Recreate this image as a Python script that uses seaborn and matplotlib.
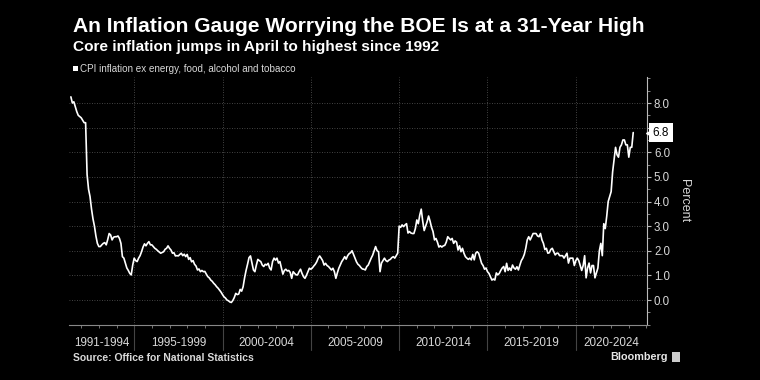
import numpy as np
import pandas as pd
import matplotlib
matplotlib.use("Agg")
import matplotlib.pyplot as plt
import matplotlib.transforms as mtransforms
from matplotlib.patches import Rectangle
from matplotlib.ticker import FixedLocator, MultipleLocator
import seaborn as sns

# UK core CPI (ex energy, food, alcohol and tobacco), % y/y, monthly from June 1991
START = "1991-06"
cpi_1991_1994 = [8.25, 8.0, 8.05, 7.85, 7.65, 7.5, 7.45,
                 7.4, 7.3, 7.2, 7.2, 5.1, 4.5, 4.2, 3.7, 3.3, 3.0, 2.6, 2.3,
                 2.17, 2.17, 2.24, 2.3, 2.33, 2.24, 2.45, 2.7, 2.64, 2.44, 2.55, 2.57,
                 2.57, 2.6, 2.5, 2.3, 1.76, 1.7, 1.5, 1.3, 1.2, 1.08, 1.02, 1.42]
cpi_1995_1999 = [1.7, 1.6, 1.56, 1.7, 1.8, 1.96, 2.15, 2.28, 2.2, 2.3, 2.37, 2.24,
                 2.24, 2.17, 2.1, 2.06, 2.0, 1.95, 1.9, 1.93, 1.96, 2.06, 2.1, 2.2,
                 2.1, 2.03, 1.9, 1.92, 1.79, 1.8, 1.79, 1.85, 1.9, 1.8, 1.86, 1.76,
                 1.85, 1.65, 1.72, 1.55, 1.6, 1.45, 1.38, 1.22, 1.26, 1.15, 1.2, 1.15,
                 1.16, 1.05, 0.95, 0.9, 0.81, 0.76, 0.68, 0.62, 0.54, 0.48, 0.4, 0.32]
cpi_2000_2004 = [0.22, 0.13, 0.08, 0.0, -0.03, -0.08, -0.1, -0.02, 0.1, 0.27, 0.22, 0.24,
                 0.43, 0.36, 0.54, 0.9, 1.2, 1.45, 1.72, 1.79, 1.5, 1.22, 1.15, 1.42,
                 1.65, 1.6, 1.56, 1.42, 1.36, 1.45, 1.42, 1.49, 1.3, 1.22, 1.56, 1.7,
                 1.62, 1.7, 1.5, 1.56, 1.3, 1.05, 1.2, 1.25, 1.18, 1.2, 1.12, 0.88,
                 1.15, 1.08, 1.02, 1.02, 1.15, 1.25, 1.08, 0.95, 0.88, 1.0, 1.15, 1.29]
cpi_2005_2009 = [1.25, 1.3, 1.38, 1.45, 1.55, 1.7, 1.79, 1.7, 1.6, 1.42, 1.49, 1.4,
                 1.36, 1.29, 1.22, 1.29, 1.15, 0.88, 1.1, 1.29, 1.42, 1.56, 1.65, 1.76,
                 1.66, 1.8, 1.88, 1.92, 2.0, 1.85, 1.7, 1.55, 1.45, 1.4, 1.32, 1.26,
                 1.25, 1.22, 1.36, 1.42, 1.56, 1.7, 1.82, 2.0, 2.17, 2.0, 1.96, 1.15,
                 1.5, 1.6, 1.7, 1.6, 1.56, 1.62, 1.65, 1.72, 1.76, 1.7, 1.8, 1.9]
cpi_2010_2014 = [3.0, 2.95, 3.05, 2.98, 3.05, 3.1, 2.72, 2.78, 2.72, 2.7, 2.7, 2.9,
                 3.25, 3.1, 3.45, 3.69, 3.2, 2.82, 3.0, 3.18, 3.41, 3.2, 2.95, 2.78,
                 2.44, 2.5, 2.35, 2.15, 2.2, 2.15, 2.2, 2.22, 2.35, 2.57, 2.5, 2.44,
                 2.5, 2.3, 2.4, 2.35, 2.03, 2.2, 1.96, 2.1, 1.9, 1.76, 1.7, 1.65,
                 1.7, 1.63, 1.85, 1.63, 1.9, 1.96, 1.9, 1.7, 1.49, 1.4, 1.25, 1.3]
cpi_2015_2019 = [1.15, 1.08, 0.95, 0.81, 0.85, 0.81, 1.1, 1.02, 1.08, 1.2, 1.3, 1.36,
                 1.15, 1.49, 1.2, 1.3, 1.2, 1.42, 1.3, 1.25, 1.35, 1.22, 1.42, 1.6,
                 1.7, 1.85, 2.1, 2.44, 2.57, 2.44, 2.57, 2.7, 2.7, 2.7, 2.6, 2.57,
                 2.7, 2.44, 2.3, 2.05, 2.1, 1.9, 1.92, 2.05, 2.1, 1.96, 1.83, 1.9,
                 1.9, 1.8, 1.8, 1.8, 1.7, 1.8, 1.9, 1.5, 1.7, 1.7, 1.7, 1.4]
cpi_2020_2023 = [1.6, 1.7, 1.6, 1.4, 1.2, 1.4, 1.8, 0.9, 1.3, 1.5, 1.1, 1.4,
                 1.4, 0.9, 1.1, 1.3, 2.0, 2.3, 1.8, 3.1, 2.9, 3.4, 4.0, 4.2,
                 4.4, 5.2, 5.7, 6.2, 5.9, 5.8, 6.2, 6.3, 6.5, 6.5, 6.3, 6.3,
                 5.8, 6.2, 6.2, 6.8]

period_labels = ["1991-1994", "1995-1999", "2000-2004", "2005-2009",
                 "2010-2014", "2015-2019", "2020-2024"]
period_breaks = [1995, 2000, 2005, 2010, 2015, 2020]
y_ticks = [0, 1, 2, 3, 4, 5, 6, 7, 8]

values = (cpi_1991_1994 + cpi_1995_1999 + cpi_2000_2004 + cpi_2005_2009
          + cpi_2010_2014 + cpi_2015_2019 + cpi_2020_2023)
months = pd.date_range(START, periods=len(values), freq="MS")
df = pd.DataFrame({"t": months.year + (months.month - 1) / 12, "cpi": values})

BG = "#000000"
GRID = "#5a5a5a"
TXT = "#d9d9d9"
X0, X1 = 1991.31, 2024.03

sns.set_theme(style="dark", rc={"axes.facecolor": BG, "figure.facecolor": BG,
                                "savefig.facecolor": BG, "text.color": "white"})
plt.rcParams["font.family"] = ["Liberation Sans", "DejaVu Sans"]

fig = plt.figure(figsize=(7.6, 3.8), dpi=100)
ax = fig.add_axes([69 / 760, 1 - 325 / 380, (647 - 69) / 760, (325 - 77) / 380])
sns.lineplot(data=df, x="t", y="cpi", color="white", lw=1.2, ax=ax, zorder=3)

ax.set_xlim(X0, X1)
ax.set_ylim(-1.015, 9.056)
ax.set_xlabel("")
ax.set_ylabel("")

# y axis on the right
ax.yaxis.tick_right()
ax.yaxis.set_major_locator(FixedLocator(y_ticks))
ax.yaxis.set_minor_locator(MultipleLocator(0.5))
ax.set_yticklabels([f"{v:.1f}" for v in y_ticks])
ax.tick_params(axis="y", which="major", right=True, left=False, length=3, width=0.8,
               color="#bbbbbb", labelcolor=TXT, labelsize=8.3, pad=2)
ax.tick_params(axis="y", which="minor", right=True, left=False, length=2, width=0.6,
               color="#999999")
ax.text(1.064, 0.5, "Percent", transform=ax.transAxes, rotation=270, ha="center",
        va="center", color=TXT, fontsize=9)

# x axis: yearly ticks, period separators and labels
ax.xaxis.set_major_locator(FixedLocator([]))
ax.xaxis.set_minor_locator(FixedLocator(list(range(1992, 2025))))
ax.tick_params(axis="x", which="minor", bottom=True, length=2.5, width=0.6,
               color="#888888")
ax.grid(False)
for v in y_ticks:
    ax.axhline(v, color=GRID, lw=0.6, ls=(0, (1, 2)), zorder=1)
trans = mtransforms.blended_transform_factory(ax.transData, ax.transAxes)
for b in period_breaks:
    ax.plot([b, b], [0, 1], transform=trans, color=GRID, lw=0.6, ls=(0, (1, 2)), zorder=1)
    ax.plot([b, b], [-0.1, 0], transform=trans, color="#444444", lw=0.8, clip_on=False)
edges = [X0] + period_breaks + [X1]
for lab, a, b in zip(period_labels, edges[:-1], edges[1:]):
    ax.text((a + b) / 2, -0.073, lab, transform=trans, ha="center", va="center",
            color=TXT, fontsize=8.4)

for side in ["top", "left"]:
    ax.spines[side].set_visible(False)
ax.spines["right"].set_color("#bbbbbb")
ax.spines["right"].set_linewidth(0.8)
ax.spines["bottom"].set_color("#888888")
ax.spines["bottom"].set_linewidth(0.8)

# last value label
last = values[-1]
ytrans = mtransforms.blended_transform_factory(ax.transAxes, ax.transData)
ax.plot([1.004], [last], marker="<", ms=5, color="white", transform=ytrans,
        clip_on=False, zorder=5)
ax.text(1.01, last, f"{last:.1f}", transform=ytrans, ha="left", va="center",
        color="black", fontsize=8.5, zorder=6,
        bbox=dict(boxstyle="square,pad=0.3", fc="white", ec="none"))

# titles, legend, footer
fig.text(73 / 760, 1 - 27 / 380, "An Inflation Gauge Worrying the BOE Is at a 31-Year High",
         ha="left", va="center", color="white", fontsize=15.1, fontweight="bold")
fig.text(73 / 760, 1 - 47 / 380, "Core inflation jumps in April to highest since 1992",
         ha="left", va="center", color="white", fontsize=11.1, fontweight="bold")
fig.patches.append(Rectangle((73 / 760, 1 - 71 / 380), 5 / 760, 5 / 380,
                             transform=fig.transFigure, fc="white", ec="none"))
fig.text(80 / 760, 1 - 68.5 / 380, "CPI inflation ex energy, food, alcohol and tobacco",
         ha="left", va="center", color=TXT, fontsize=7.15)
fig.text(73 / 760, 1 - 358 / 380, "Source: Office for National Statistics",
         ha="left", va="center", color=TXT, fontsize=7.45, fontweight="bold")
fig.text(668 / 760, 1 - 357 / 380, "Bloomberg", ha="right", va="center",
         color="#e6e6e6", fontsize=7.8, fontweight="bold")
fig.patches.append(Rectangle((672 / 760, 1 - 362 / 380), 8 / 760, 10 / 380,
                             transform=fig.transFigure, fc="#cccccc", ec="none"))

fig.savefig("out.png", dpi=100, facecolor=BG)
